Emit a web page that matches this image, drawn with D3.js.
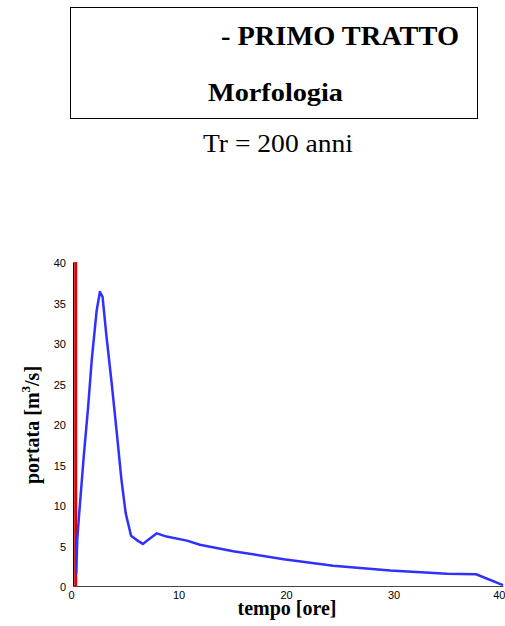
<!DOCTYPE html>
<html>
<head>
<meta charset="utf-8">
<script src="https://d3js.org/d3.v7.min.js"></script>
<style>
    body { margin: 0; background: #fff; }
    svg { display: block; }
</style>
</head>
<body>
<script>
// hydrograph data: time [ore] and discharge [m3/s]
var tempo = [0.3, 0.4, 0.55, 1.0, 1.4, 1.75, 2.2, 2.5, 2.75, 3.1, 3.6, 4.05, 4.5, 4.9,
             5.4, 5.9, 6.5, 7.0, 7.8, 8.7, 10.6, 11.8, 14.9, 19.6, 24.2, 29.5, 34.8, 37.5, 40];
var portata = [1.5, 5.8, 8.5, 16, 22, 28, 34, 36.3, 35.7, 31, 25, 19.2, 13.2, 9,
               6.2, 5.7, 5.2, 5.7, 6.5, 6.1, 5.6, 5.1, 4.3, 3.3, 2.5, 1.9, 1.5, 1.45, 0.1];

// red marker line
var markerTempo = 0.25;
var markerRange = [0, 40];

var xTicks = [0, 10, 20, 30, 40];
var yTicks = [0, 5, 10, 15, 20, 25, 30, 35, 40];

var titoli = ["- PRIMO TRATTO", "Morfologia"];
var sottotitolo = "Tr = 200 anni";

window.onload = function() {
    drawChart();
};

function drawChart() {
    var width = 505;
    var height = 626;

    var svg = d3.select("body")
        .append("svg")
        .attr("width", width)
        .attr("height", height);

    // title box
    svg.append("rect")
        .attr("x", 70.5)
        .attr("y", 7.5)
        .attr("width", 407)
        .attr("height", 111)
        .attr("fill", "none")
        .attr("stroke", "#000")
        .attr("stroke-width", 1);

    svg.append("text")
        .attr("x", 221)
        .attr("y", 45)
        .attr("font-family", "Liberation Serif, Times New Roman, serif")
        .attr("font-weight", "bold")
        .attr("font-size", 27)
        .attr("textLength", 238)
        .attr("lengthAdjust", "spacingAndGlyphs")
        .text(titoli[0]);

    svg.append("text")
        .attr("x", 208)
        .attr("y", 101)
        .attr("font-family", "Liberation Serif, Times New Roman, serif")
        .attr("font-weight", "bold")
        .attr("font-size", 25)
        .attr("textLength", 135)
        .attr("lengthAdjust", "spacingAndGlyphs")
        .text(titoli[1]);

    svg.append("text")
        .attr("x", 203)
        .attr("y", 152)
        .attr("font-family", "Liberation Serif, Times New Roman, serif")
        .attr("font-size", 26)
        .attr("textLength", 150)
        .attr("lengthAdjust", "spacingAndGlyphs")
        .text(sottotitolo);

    // scales
    var x = d3.scaleLinear().domain([0, 40]).range([73, 503]);
    var y = d3.scaleLinear().domain([0, 40]).range([586, 262]);

    // x axis
    var xAxis = svg.append("g")
        .attr("transform", "translate(0," + y(0) + ")")
        .call(d3.axisBottom(x).tickValues(xTicks).tickSize(0).tickSizeOuter(0).tickPadding(5));
    xAxis.select(".domain").attr("stroke", "#444");
    xAxis.selectAll("text")
        .attr("x", -2)
        .attr("font-family", "Liberation Sans, Arial, sans-serif")
        .attr("font-size", 11)
        .attr("fill", "#000");
    // last label sits against the right edge
    xAxis.selectAll("text")
        .filter(function(d) { return d == 40; })
        .attr("text-anchor", "end")
        .attr("x", 2);

    // y axis
    var yAxis = svg.append("g")
        .attr("transform", "translate(" + x(0) + ",0)")
        .call(d3.axisLeft(y).tickValues(yTicks).tickSize(0).tickSizeOuter(0).tickPadding(7));
    yAxis.select(".domain").attr("stroke", "#000");
    yAxis.selectAll("text")
        .attr("transform", "translate(0,1)")
        .attr("font-family", "Liberation Sans, Arial, sans-serif")
        .attr("font-size", 11)
        .attr("fill", "#000");

    // red vertical line
    svg.append("line")
        .attr("x1", x(markerTempo))
        .attr("x2", x(markerTempo))
        .attr("y1", y(markerRange[0]))
        .attr("y2", y(markerRange[1]))
        .attr("stroke", "#e00000")
        .attr("stroke-width", 3);

    // hydrograph
    var punti = tempo.map(function(t, i) { return [t, portata[i]]; });
    var line = d3.line()
        .x(function(d) { return x(d[0]); })
        .y(function(d) { return y(d[1]); });

    svg.append("path")
        .datum(punti)
        .attr("d", line)
        .attr("fill", "none")
        .attr("stroke", "#3030ff")
        .attr("stroke-width", 2.5)
        .attr("stroke-linejoin", "round");

    // axis labels
    svg.append("text")
        .attr("x", 287)
        .attr("y", 615)
        .attr("text-anchor", "middle")
        .attr("font-family", "Liberation Serif, Times New Roman, serif")
        .attr("font-weight", "bold")
        .attr("font-size", 20)
        .text("tempo [ore]");

    var yLabel = svg.append("text")
        .attr("transform", "translate(39,425) rotate(-90)")
        .attr("text-anchor", "middle")
        .attr("font-family", "Liberation Serif, Times New Roman, serif")
        .attr("font-weight", "bold")
        .attr("font-size", 20);
    yLabel.append("tspan").text("portata [m");
    yLabel.append("tspan").attr("font-size", 13).attr("dy", -9).text("3");
    yLabel.append("tspan").attr("dy", 9).text("/s]");
}
</script>
</body>
</html>
